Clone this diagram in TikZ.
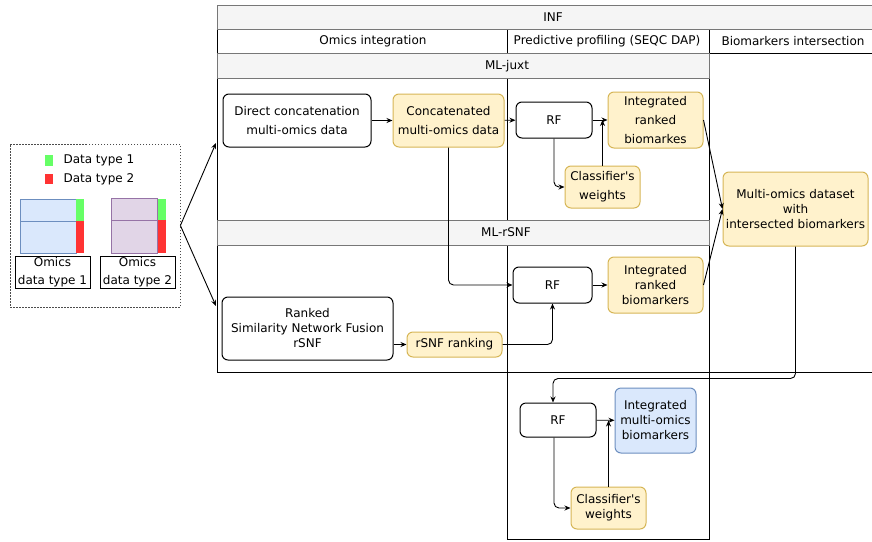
\documentclass[tikz,border=0pt]{standalone}
\usepackage{fontspec}
\setmainfont{DejaVu Sans}[Ligatures=TeXOff]
\usepackage{color}
\usetikzlibrary{arrows.meta}
\definecolor{grisf}{HTML}{F5F5F5}
\definecolor{grisb}{HTML}{777777}
\definecolor{jaunef}{HTML}{FFF2CC}
\definecolor{jauneb}{HTML}{D6B656}
\definecolor{bleuf}{HTML}{DAE8FC}
\definecolor{bleub}{HTML}{6C8EBF}
\definecolor{violetf}{HTML}{E1D5E7}
\definecolor{violetb}{HTML}{9673A6}
\definecolor{vert}{HTML}{66FF66}
\definecolor{rouge}{HTML}{FF3333}
\begin{document}
\begin{tikzpicture}[x=1pt,y=-1pt,font=\fontsize{12}{15}\selectfont]
\tikzstyle{lien}=[->,>={Stealth[length=6pt,width=5pt]},rounded corners=5pt,line width=0.9pt]
\tikzset{boite/.style={draw,line width=1pt,rounded corners=6pt,align=center,inner sep=0pt,fill=white},
jaune/.style={boite,draw=jauneb,fill=jaunef},
bleu/.style={boite,draw=bleub,fill=bleuf},
taille/.style 2 args={minimum width=#1pt,minimum height=#2pt},
entete/.style={draw=grisb,fill=grisf,line width=1pt},
cadre/.style={draw,line width=1pt}}
\useasboundingbox (0,0) rectangle (872,541);
\clip (0,0) rectangle (872,541);

% couloirs
\draw[cadre] (217,29) rectangle (709,372);
\draw[cadre] (709,29) rectangle (880,372);
\draw[cadre] (217,29) rectangle (507,53);
\draw[cadre] (507,29) rectangle (709,53);
\draw[cadre] (709,53) -- (880,53);
\draw[cadre] (507,78) -- (507,372);
\draw[cadre] (507,372) rectangle (709,539);
\draw[entete] (217,5) rectangle (880,29);
\draw[entete] (217,53) rectangle (709,78);
\draw[entete] (217,220) rectangle (709,245);
\node (inf) at (553,17) {INF};
\node (omics) at (373,41) {Omics integration};
\node (pred) at (607,41) {Predictive profiling (SEQC DAP)};
\node (inter) at (793,41) {Biomarkers intersection};
\node (juxt) at (507,66) {ML-juxt};
\node (rsnf) at (506,232) {ML-rSNF};

% donnees d'entree
\node[draw=black!70,dash pattern=on 1.5pt off 1.5pt,line width=0.8pt,taille={170}{163}] (entree) at (95,225.5) {};
\fill[vert] (45,155) rectangle (52.5,165.5);
\fill[rouge] (45,173.5) rectangle (52.5,184);
\node[anchor=west] (leg1) at (60,160.5) {Data type 1};
\node[anchor=west] (leg2) at (60,179) {Data type 2};
\draw[draw=bleub,fill=bleuf,line width=0.8pt] (20.5,199) rectangle (76,253);
\draw[draw=bleub,line width=0.8pt] (20.5,221) -- (76,221);
\fill[vert] (76,199) rectangle (84,221);
\fill[rouge] (76,221) rectangle (84,253);
\draw[draw=violetb,fill=violetf,line width=0.8pt] (111.5,198.5) rectangle (157.5,253);
\draw[draw=violetb,line width=0.8pt] (111.5,220) -- (157.5,220);
\fill[vert] (157.5,198.5) rectangle (165.5,220);
\fill[rouge] (157.5,220) rectangle (165.5,253);
\node[draw,line width=1pt,align=center,inner sep=0pt,taille={75}{32}] (type1) at (52.5,272) {Omics\\[3pt]data type 1};
\node[draw,line width=1pt,align=center,inner sep=0pt,taille={75}{32}] (type2) at (137.5,272) {Omics\\[3pt]data type 2};
\coordinate (cjuxt) at (216,143);
\coordinate (csnf) at (216,306);
\draw[lien,rounded corners=0pt] (entree.east) -- (cjuxt);
\draw[lien,rounded corners=0pt] (entree.east) -- (csnf);

% ML-juxt
\node[boite,taille={148}{53}] (direct) at (297,120.5) {Direct concatenation\\[4pt]multi-omics data};
\node[jaune,taille={111}{53}] (concat) at (448.5,120.5) {Concatenated\\[4pt]multi-omics data};
\node[boite,taille={76}{36}] (rf1) at (554,120) {RF};
\node[jaune,taille={95}{56}] (int1) at (655.5,120) {Integrated\\[4pt]ranked\\[4pt]biomarkes};
\node[jaune,taille={75}{42}] (cw1) at (602.5,187) {Classifier's\\[4pt]weights};
\draw[lien] (direct) -- (concat);
\draw[lien] (concat) -- (rf1);
\draw[lien] (rf1) -- (int1);
\draw[lien] (rf1.south) |- (cw1.west);
\draw[lien] (cw1.north) -- (cw1.north |- int1.west);

% ML-rSNF
\node[boite,taille={79}{36}] (rf2) at (552.5,285) {RF};
\node[jaune,taille={95}{56}] (int2) at (655.5,285) {Integrated\\ranked\\biomarkers};
\node[boite,taille={171}{63}] (snf) at (307.5,328.5) {Ranked\\Similarity Network Fusion\\rSNF};
\node[jaune,taille={95}{25}] (rank) at (454.5,344.5) {rSNF ranking};
\draw[lien] (concat.south) |- (rf2.west);
\draw[lien] (snf.east |- rank.west) -- (rank.west);
\draw[lien] (rank.east) -| (rf2.south);
\draw[lien] (rf2) -- (int2);

% intersection
\node[jaune,taille={145}{74}] (multi) at (795.5,209) {Multi-omics dataset\\with\\intersected biomarkers};
\draw[lien,rounded corners=0pt] (int1.east) -- (multi.west);
\draw[lien,rounded corners=0pt] (int2.east) -- (multi.west);

% biomarqueurs finaux
\node[boite,taille={76}{34}] (rf3) at (558,420) {RF};
\node[bleu,taille={81}{65}] (int3) at (655.5,420.5) {Integrated\\multi-omics\\biomarkers};
\node[jaune,taille={75}{42}] (cw3) at (608.5,508) {Classifier's\\weights};
\draw[lien] (multi.south) -- ++(0,132) -| ([xshift=-5pt]rf3.north);
\draw[lien] (rf3) -- (int3);
\draw[lien] ([xshift=-4pt]rf3.south) |- (cw3.west);
\draw[lien] (cw3.north) -- (cw3.north |- int3.west);
\end{tikzpicture}
\end{document}
